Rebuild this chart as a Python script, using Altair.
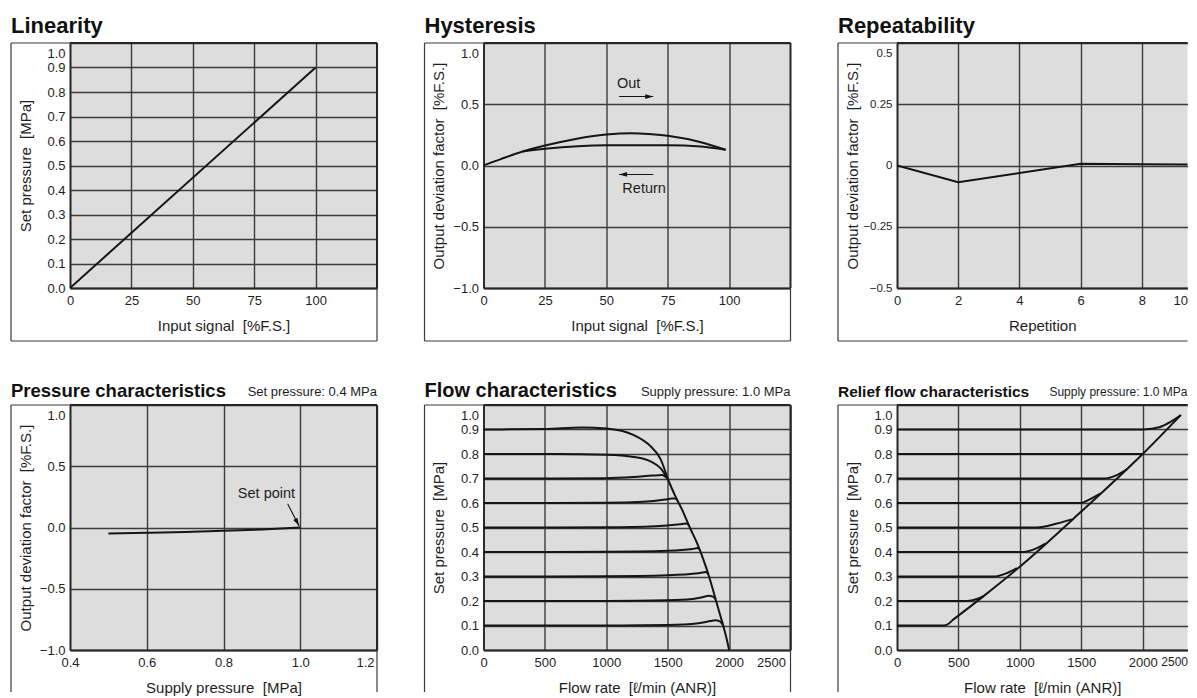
import altair as alt
import pandas as pd

FONT = "Liberation Sans"
INK = "#151515"
TXT = "#1e1e1e"
GRID = "#3c3c3c"
FILL = "#dddddd"
FRAME = "#3a3a3a"
EDGE = "#262626"

# ---------------- data ----------------
# Linearity
lin_x = [0, 100]
lin_y = [0.0, 0.9]

# Hysteresis
hys_out_x = [0, 7, 15.9, 25, 37, 50, 60, 75, 88.5, 98.6]
hys_out_y = [0.0, 0.052, 0.114, 0.163, 0.215, 0.253, 0.264, 0.242, 0.19, 0.128]
hys_ret_x = [15.9, 25, 50, 75, 88.5, 98.6]
hys_ret_y = [0.114, 0.136, 0.166, 0.166, 0.155, 0.128]
hys_note_x = [59.1, 65.4]
hys_note_y = [0.664, -0.19]
hys_note_t = ["Out", "Return"]
hys_arrow_x = [55.2, 69.1]
hys_arrow_x2 = [69.1, 55.2]
hys_arrow_y = [0.563, -0.073]
hys_head_angle = [0, 180]

# Repeatability
rep_x = [0, 2, 4, 6, 8, 10]
rep_y = [0.0, -0.068, -0.031, 0.007, 0.005, 0.004]

# Pressure characteristics
prs_x = [0.5, 0.6, 0.7, 0.8, 0.9, 1.0]
prs_y = [-0.048, -0.043, -0.036, -0.027, -0.016, 0.0]
prs_note = ("Set point", 0.912, 0.27)
prs_arrow = (0.967, 0.194, 0.997, 0.012)

# Flow characteristics (set pressure curves, MPa vs l/min)
flow_curves = {
    "0.9": ([0, 500, 800, 1000, 1225, 1360, 1441, 1501],
            [0.9, 0.902, 0.908, 0.904, 0.877, 0.832, 0.78, 0.698]),
    "0.8": ([0, 600, 1000, 1225, 1360, 1441, 1501],
            [0.8, 0.8, 0.797, 0.788, 0.77, 0.742, 0.698]),
    "0.7": ([0, 1000, 1225, 1380, 1453, 1501],
            [0.7, 0.701, 0.706, 0.712, 0.714, 0.698]),
    "0.6": ([0, 1000, 1300, 1480, 1534, 1562, 1582],
            [0.6, 0.601, 0.605, 0.614, 0.618, 0.618, 0.608]),
    "0.5": ([0, 1000, 1400, 1600, 1650, 1672],
            [0.5, 0.501, 0.505, 0.513, 0.516, 0.509]),
    "0.4": ([0, 1000, 1500, 1700, 1745, 1760],
            [0.4, 0.401, 0.405, 0.412, 0.416, 0.409]),
    "0.3": ([0, 1000, 1500, 1750, 1810, 1830],
            [0.3, 0.301, 0.305, 0.313, 0.318, 0.31]),
    "0.2": ([0, 1000, 1500, 1700, 1790, 1832, 1868, 1890],
            [0.2, 0.2, 0.203, 0.208, 0.216, 0.221, 0.218, 0.2075]),
    "0.1": ([0, 1000, 1500, 1750, 1850, 1887, 1925, 1950],
            [0.1, 0.1, 0.102, 0.109, 0.118, 0.121, 0.117, 0.1025]),
    "env": ([1501, 1560, 1615, 1680, 1740, 1790, 1840, 1880, 1920, 1960, 1985, 2000],
            [0.698, 0.63, 0.575, 0.50, 0.435, 0.37, 0.295, 0.225, 0.155, 0.085, 0.035, 0.0]),
}

# Relief flow characteristics
relief_curves = {
    "0.1": ([0, 379, 420, 447], [0.1, 0.1, 0.107, 0.12]),
    "0.2": ([0, 570, 651, 705], [0.2, 0.2, 0.208, 0.22]),
    "0.3": ([0, 786, 895, 976], [0.3, 0.3, 0.314, 0.334]),
    "0.4": ([0, 1030, 1139, 1207], [0.4, 0.4, 0.416, 0.434]),
    "0.5": ([0, 1139, 1302, 1424], [0.5, 0.5, 0.516, 0.533]),
    "0.6": ([0, 1492, 1573, 1654], [0.6, 0.6, 0.616, 0.638]),
    "0.7": ([0, 1681, 1790, 1871], [0.7, 0.7, 0.714, 0.737]),
    "0.8": ([0, 2000], [0.8, 0.8]),
    "0.9": ([0, 2007, 2142, 2224, 2311], [0.9, 0.9, 0.91, 0.93, 0.959]),
    "diag": ([447, 705, 1000, 1500, 2000, 2311], [0.12, 0.22, 0.34, 0.565, 0.80, 0.959]),
}

# axis tick values (third column is cut by the picture edge, as in the source)
REP_MAX = 9.49
RELIEF_MAX = 2365
ticks_pct = [0, 25, 50, 75, 100]
ticks_01 = [round(i * 0.1, 1) for i in range(11)]
ticks_pm1 = [-1.0, -0.5, 0.0, 0.5, 1.0]
ticks_rep_y = [-0.5, -0.25, 0, 0.25, 0.5]
ticks_rep_x = [0, 2, 4, 6, 8, REP_MAX]
ticks_prs_x = [0.4, 0.6, 0.8, 1.0, 1.2]
ticks_flow_x = [0, 500, 1000, 1500, 2000, 2500]
ticks_relief_x = [0, 500, 1000, 1500, 2000, RELIEF_MAX]

# ---------------- helpers ----------------
ONE = pd.DataFrame({"k": [0]})
ARROW = "M0,0L-2,-0.6L-2,0.6Z"


def long_df(curves):
    rows = []
    for name, (xs, ys) in curves.items():
        rows += [{"curve": name, "x": a, "y": b} for a, b in zip(xs, ys)]
    return pd.DataFrame(rows)


def top_offset(v):
    return {"condition": {"test": f"datum.value == {v}", "value": 10}, "value": 0}


def right_align(v):
    return {"condition": {"test": f"datum.value >= {v}", "value": "right"}, "value": "center"}


def edge_num(v, a, b):
    return {"condition": {"test": f"datum.value >= {v}", "value": a}, "value": b}


def frame(W, H, FH, right=True, bottom=True):
    L = [
        alt.Chart(ONE).mark_rule(color=FRAME, strokeWidth=1.2).encode(
            x=alt.value(-59), x2=alt.value(0), y=alt.value(0)),
        alt.Chart(ONE).mark_rule(color=EDGE, strokeWidth=2).encode(
            x=alt.value(0), x2=alt.value(W), y=alt.value(0)),
        alt.Chart(ONE).mark_rule(color=FRAME, strokeWidth=1.2).encode(
            x=alt.value(-59), y=alt.value(0), y2=alt.value(FH)),
    ]
    if right:
        L.append(alt.Chart(ONE).mark_rule(color=EDGE, strokeWidth=2).encode(
            x=alt.value(W), y=alt.value(0), y2=alt.value(H)))
        L.append(alt.Chart(ONE).mark_rule(color=FRAME, strokeWidth=1.2).encode(
            x=alt.value(W), y=alt.value(H), y2=alt.value(FH)))
    if bottom:
        L.append(alt.Chart(ONE).mark_rule(color=FRAME, strokeWidth=1.2).encode(
            x=alt.value(-59), x2=alt.value(W), y=alt.value(FH)))
    return L


def heading(text, size, dy, font=FONT):
    return alt.Chart(ONE).mark_text(
        text=text, align="left", baseline="alphabetic", font=font,
        fontSize=size, fontWeight="bold", color="#111111").encode(
        x=alt.value(-59), y=alt.value(dy))


def note(text, W, dy, size=13):
    return alt.Chart(ONE).mark_text(
        text=text, align="right", baseline="alphabetic", font=FONT,
        fontSize=size, color=TXT).encode(x=alt.value(W), y=alt.value(dy))


def curves_layer(df, xenc, yenc, interp="monotone"):
    return alt.Chart(df).mark_line(
        color=INK, strokeWidth=2, interpolate=interp, clip=True).encode(
        x=xenc, y=yenc, detail="curve:N")


def heads_layer(df, xenc, yenc):
    return alt.Chart(df).mark_point(
        shape=ARROW, filled=True, size=64, color=INK, opacity=1, strokeWidth=0).encode(
        x=xenc, y=yenc, angle=alt.Angle("a:Q", scale=None))


H = 245
W1, W2, W3 = 307, 307, 290.5
FH_TOP = 298
FH_BOT = 287

# ---------------- Linearity ----------------
x1 = alt.X("x:Q", scale=alt.Scale(domain=[0, 125], nice=False, zero=False),
           axis=alt.Axis(values=ticks_pct, format="d", title="Input signal \u00a0[%F.S.]"))
y1 = alt.Y("y:Q", scale=alt.Scale(domain=[0, 1], nice=False, zero=False),
           axis=alt.Axis(values=ticks_01, format=".1f", title="Set pressure \u00a0[MPa]",
                         labelOffset=top_offset(1)))
p1 = alt.layer(
    curves_layer(long_df({"lin": (lin_x, lin_y)}), x1, y1, "linear"),
    *frame(W1, H, FH_TOP),
    heading("Linearity", 22, -10),
).properties(width=W1, height=H)

# ---------------- Hysteresis ----------------
x2 = alt.X("x:Q", scale=alt.Scale(domain=[0, 125], nice=False, zero=False),
           axis=alt.Axis(values=ticks_pct, format="d", title="Input signal \u00a0[%F.S.]"))
y2 = alt.Y("y:Q", scale=alt.Scale(domain=[-1, 1], nice=False, zero=False),
           axis=alt.Axis(values=ticks_pm1, format=".1f",
                         title="Output deviation factor \u00a0[%F.S.]",
                         labelOffset=top_offset(1)))
hys_df = long_df({"out": (hys_out_x, hys_out_y), "ret": (hys_ret_x, hys_ret_y)})
hys_notes = pd.DataFrame({"x": hys_note_x, "y": hys_note_y, "t": hys_note_t})
hys_arrows = pd.DataFrame({"x": hys_arrow_x, "x2": hys_arrow_x2, "y": hys_arrow_y})
hys_heads = pd.DataFrame({"x": hys_arrow_x2, "y": hys_arrow_y, "a": hys_head_angle})
p2 = alt.layer(
    curves_layer(hys_df, x2, y2),
    alt.Chart(hys_notes).mark_text(font=FONT, fontSize=14.5, color=TXT).encode(
        x=x2, y=y2, text="t:N"),
    alt.Chart(hys_arrows).mark_rule(color=INK, strokeWidth=1.1).encode(
        x=x2, x2="x2:Q", y=y2),
    heads_layer(hys_heads, x2, y2),
    *frame(W2, H, FH_TOP),
    heading("Hysteresis", 22, -10),
).properties(width=W2, height=H)

# ---------------- Repeatability ----------------
x3 = alt.X("x:Q", scale=alt.Scale(domain=[0, REP_MAX], nice=False, zero=False),
           axis=alt.Axis(values=ticks_rep_x, format="d", title="Repetition",
                         labelExpr="datum.value > 9 ? '10' : datum.label",
                         labelAlign=right_align(9), gridOpacity=edge_num(9, 0, 1)))
y3 = alt.Y("y:Q", scale=alt.Scale(domain=[-0.5, 0.5], nice=False, zero=False),
           axis=alt.Axis(values=ticks_rep_y, labelFontSize=11.5,
                         labelExpr="format(datum.value, '.2~f')",
                         title="Output deviation factor \u00a0[%F.S.]",
                         labelOffset=top_offset(0.5)))
p3 = alt.layer(
    curves_layer(long_df({"rep": (rep_x, rep_y)}), x3, y3, "linear"),
    *frame(W3, H, FH_TOP, right=False),
    heading("Repeatability", 22, -10),
).properties(width=W3, height=H)

# ---------------- Pressure characteristics ----------------
x4 = alt.X("x:Q", scale=alt.Scale(domain=[0.4, 1.2], nice=False, zero=False),
           axis=alt.Axis(values=ticks_prs_x, format=".1f", title="Supply pressure \u00a0[MPa]",
                         labelAlign=right_align(1.15), labelOffset=edge_num(1.15, -3, 0)))
y4 = alt.Y("y:Q", scale=alt.Scale(domain=[-1, 1], nice=False, zero=False),
           axis=alt.Axis(values=ticks_pm1, format=".1f",
                         title="Output deviation factor \u00a0[%F.S.]",
                         labelOffset=top_offset(1)))
prs_notes = pd.DataFrame({"x": [prs_note[1]], "y": [prs_note[2]], "t": [prs_note[0]]})
prs_arrows = pd.DataFrame({"x": [prs_arrow[0]], "y": [prs_arrow[1]],
                           "x2": [prs_arrow[2]], "y2": [prs_arrow[3]]})
prs_heads = pd.DataFrame({"x": [prs_arrow[2]], "y": [prs_arrow[3]], "a": [62]})
p4 = alt.layer(
    curves_layer(long_df({"prs": (prs_x, prs_y)}), x4, y4),
    alt.Chart(prs_notes).mark_text(font=FONT, fontSize=14.5, color=TXT).encode(
        x=x4, y=y4, text="t:N"),
    alt.Chart(prs_arrows).mark_rule(color=INK, strokeWidth=1.1).encode(
        x=x4, y=y4, x2="x2:Q", y2="y2:Q"),
    heads_layer(prs_heads, x4, y4),
    *frame(W1, H, FH_BOT, bottom=False),
    heading("Pressure characteristics", 18.5, -8.5),
    note("Set pressure: 0.4 MPa", W1, -9),
).properties(width=W1, height=H)

# ---------------- Flow characteristics ----------------
x5 = alt.X("x:Q", scale=alt.Scale(domain=[0, 2500], nice=False, zero=False),
           axis=alt.Axis(values=ticks_flow_x, format="d",
                         title="Flow rate \u00a0[\u2113/min (ANR)]",
                         labelAlign=right_align(2400), labelOffset=edge_num(2400, -5, 0)))
y5 = alt.Y("y:Q", scale=alt.Scale(domain=[0, 1], nice=False, zero=False),
           axis=alt.Axis(values=ticks_01, format=".1f", title="Set pressure \u00a0[MPa]",
                         labelOffset=top_offset(1)))
p5 = alt.layer(
    curves_layer(long_df(flow_curves), x5, y5),
    *frame(W2, H, FH_BOT, bottom=False),
    heading("Flow characteristics", 20, -8.5),
    note("Supply pressure: 1.0 MPa", W2, -9),
).properties(width=W2, height=H)

# ---------------- Relief flow characteristics ----------------
x6 = alt.X("x:Q", scale=alt.Scale(domain=[0, RELIEF_MAX], nice=False, zero=False),
           axis=alt.Axis(values=ticks_relief_x, format="d",
                         title="Flow rate \u00a0[\u2113/min (ANR)]",
                         labelExpr="datum.value > 2300 ? '2500' : datum.label",
                         labelAlign=right_align(2300), gridOpacity=edge_num(2300, 0, 1),
                         labelFontSize=edge_num(2300, 12, 13)))
y6 = alt.Y("y:Q", scale=alt.Scale(domain=[0, 1], nice=False, zero=False),
           axis=alt.Axis(values=ticks_01, format=".1f", title="Set pressure \u00a0[MPa]",
                         labelOffset=top_offset(1)))
p6 = alt.layer(
    curves_layer(long_df(relief_curves), x6, y6),
    *frame(W3, H, FH_BOT, right=False, bottom=False),
    heading("Relief flow characteristics", 15.5, -8.5),
    note("Supply pressure: 1.0 MPa", W3, -9, size=12),
).properties(width=W3, height=H)

chart = alt.concat(
    p1, p2, p3, p4, p5, p6, columns=3,
    spacing={"row": 117, "column": 106.5}, bounds="flush",
).properties(
    background="white",
    padding={"left": 2, "top": 7, "right": 0, "bottom": 0},
).configure(font=FONT).configure_view(
    fill=FILL, strokeWidth=0,
).configure_axis(
    domainColor=EDGE, domainWidth=1.8, grid=True, gridColor=GRID, gridWidth=1.4,
    gridOpacity=1, ticks=False, labelFont=FONT, labelFontSize=13, labelColor=TXT,
    labelFlush=False, labelOverlap=False, labelPadding=5,
    titleFont=FONT, titleFontSize=15, titleFontWeight="normal", titleColor=TXT,
).configure_axisX(
    labelPadding=6, titleY=37.5, titleBaseline="middle",
).configure_axisY(
    titleX=-45, titleBaseline="middle", titleAngle=-90,
)

chart.save("out.html", embed_options={"renderer": "svg", "actions": False})
